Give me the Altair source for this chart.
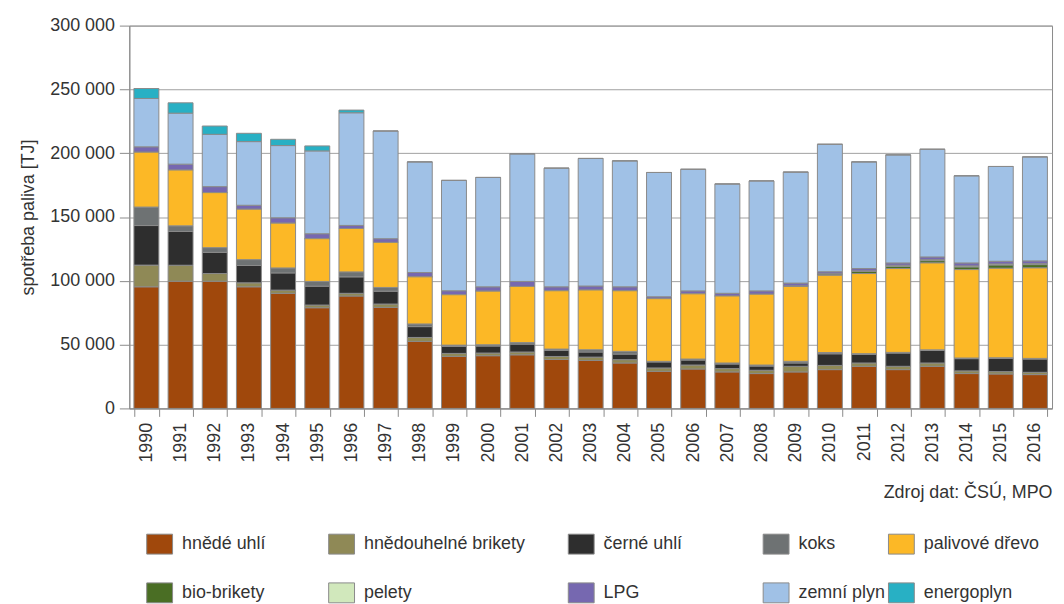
import altair as alt
import pandas as pd

years = [str(y) for y in range(1990, 2017)]

fuels = ["hnědé uhlí", "hnědouhelné brikety", "černé uhlí", "koks", "palivové dřevo",
         "bio-brikety", "pelety", "LPG", "zemní plyn", "energoplyn"]
colors = ["#A0480C", "#8F8956", "#2E2E2E", "#6E7273", "#FCB826",
          "#4A6E24", "#D1E8BC", "#7668B0", "#A0C1E6", "#28B0C4"]

# values in thousands of TJ
hnede_uhli = [95.3, 99.7, 99.7, 95.3, 90.2, 78.9, 88.1, 79.2, 52.5, 40.8, 41.3, 42.0, 38.4, 37.6,
              35.6, 29.1, 30.9, 28.6, 27.3, 28.6, 30.4, 33.0, 30.4, 33.0, 27.3, 27.0, 26.5]
hnedouhelne_brikety = [17.0, 12.5, 6.0, 3.1, 2.5, 2.1, 2.1, 2.6, 3.1, 2.3, 2.1, 2.2, 2.3, 2.6,
                       2.6, 2.6, 3.1, 2.6, 2.6, 4.4, 3.3, 2.6, 2.6, 2.6, 2.1, 1.8, 1.8]
cerne_uhli = [31.0, 26.5, 16.6, 13.6, 13.5, 14.8, 12.9, 10.1, 8.5, 5.5, 5.5, 6.2, 4.8, 4.0,
              4.4, 4.7, 3.9, 3.6, 3.3, 2.6, 9.1, 6.7, 10.4, 9.8, 9.6, 10.4, 10.4]
koks = [14.5, 4.4, 3.7, 4.6, 3.9, 3.7, 3.9, 2.9, 2.1, 1.0, 1.0, 1.2, 1.0, 1.8,
        2.1, 0.5, 0.8, 0.8, 0.8, 1.3, 1.0, 0.6, 0.5, 0.5, 0.5, 0.5, 0.5]
palivove_drevo = [43.0, 43.7, 43.1, 39.5, 35.1, 33.5, 34.0, 35.3, 36.9, 39.5, 42.0, 44.0, 45.7, 46.8,
                  47.5, 49.1, 51.1, 52.5, 55.5, 58.7, 60.5, 62.8, 65.7, 68.1, 69.3, 70.1, 70.9]
bio_brikety = [0, 0, 0, 0, 0, 0, 0, 0, 0, 0, 0, 0, 0, 0,
               0, 0, 0, 0, 0, 0.5, 1.0, 1.6, 1.8, 1.8, 2.1, 2.6, 2.6]
pelety = [0, 0, 0, 0, 0, 0, 0, 0, 0, 0, 0, 0, 0, 0,
          0, 0, 0, 0, 0, 0, 0.3, 0.5, 0.8, 0.8, 0.8, 0.8, 0.8]
lpg = [4.2, 4.6, 4.7, 3.1, 4.2, 3.9, 2.4, 2.9, 3.4, 3.1, 3.4, 3.9, 3.1, 3.1,
       3.1, 1.5, 2.3, 2.1, 2.6, 2.1, 1.5, 1.8, 1.8, 2.1, 2.3, 2.1, 2.1]
zemni_plyn = [37.9, 40.0, 41.0, 49.9, 56.6, 64.9, 88.3, 84.4, 86.7, 86.5, 85.7, 100.0, 93.0, 100.0,
              98.7, 97.4, 95.3, 85.7, 86.2, 87.0, 99.9, 83.6, 84.7, 84.4, 68.3, 74.3, 81.5]
energoplyn = [7.8, 8.1, 6.5, 6.5, 4.9, 3.9, 2.1, 0, 0, 0, 0, 0, 0, 0,
              0, 0, 0, 0, 0, 0, 0, 0, 0, 0, 0, 0, 0]

series = [hnede_uhli, hnedouhelne_brikety, cerne_uhli, koks, palivove_drevo,
          bio_brikety, pelety, lpg, zemni_plyn, energoplyn]

y_ticks = [0, 50000, 100000, 150000, 200000, 250000, 300000]
source_note = "Zdroj dat: ČSÚ, MPO"

rows = []
for k, (f, vals) in enumerate(zip(fuels, series)):
    for y, v in zip(years, vals):
        rows.append({"rok": y, "palivo": f, "poradi": k, "hodnota": v * 1000})
df = pd.DataFrame(rows)

FONT = "Liberation Sans"
TXT = "#333333"
GRAY = "#8a8a8a"

# legend columns (top row / bottom row)
legend_cols = [
    (["hnědé uhlí", "bio-brikety"], 20),
    (["hnědouhelné brikety", "pelety"], 203),
    (["černé uhlí", "LPG"], 444),
    (["koks", "zemní plyn"], 640),
    (["palivové dřevo", "energoplyn"], 766),
]

base = alt.Chart(df).transform_stack(
    stack="hodnota", groupby=["rok"],
    sort=[alt.SortField("poradi", order="ascending")],
    as_=["y0", "y1"],
).mark_bar(stroke=GRAY, strokeWidth=1).encode(
    x=alt.X("rok:O", sort=years,
            scale=alt.Scale(paddingInner=0.27, paddingOuter=0.135),
            axis=alt.Axis(title=source_note, titleAnchor="end", titleAlign="right",
                          titleFontSize=18, titleFont=FONT, titleColor=TXT,
                          titleFontWeight="normal", titlePadding=22,
                          labelAngle=270, labelFontSize=18, labelFont=FONT,
                          labelColor=TXT, tickSize=8, labelPadding=6, tickBand="extent",
                          domainColor=GRAY, tickColor=GRAY, grid=False)),
    y=alt.Y("y0:Q", scale=alt.Scale(domain=[0, 300000]),
            axis=alt.Axis(title="spotřeba paliva [TJ]", values=y_ticks,
                          labelExpr="replace(format(datum.value, ','), ',', ' ')",
                          labelFontSize=18, labelFont=FONT, labelColor=TXT,
                          titleFontSize=18, titleFont=FONT, titleColor=TXT,
                          titleFontWeight="normal", titlePadding=12,
                          tickSize=10, labelPadding=5, domainColor=GRAY, tickColor=GRAY,
                          gridColor="#a0a0a0", gridWidth=1)),
    y2="y1:Q",
)

layers = []
for group, lx in legend_cols:
    rng = [colors[fuels.index(g)] for g in group]
    layers.append(
        base.transform_filter(alt.FieldOneOfPredicate(field="palivo", oneOf=group)).encode(
            color=alt.Color("palivo:N", scale=alt.Scale(domain=group, range=rng),
                            legend=alt.Legend(orient="none", legendX=lx, legendY=511,
                                              direction="vertical", title=None))
        )
    )

chart = alt.layer(*layers).resolve_scale(color="independent").properties(
    width=928, height=385,
    padding={"left": 122, "top": 16, "right": 4, "bottom": 195},
    autosize=alt.AutoSizeParams(type="none"),
).configure_view(stroke=GRAY).configure_legend(
    symbolType="M-1.3,-1H1.3V1H-1.3Z", symbolSize=400,
    symbolStrokeColor=GRAY, symbolStrokeWidth=1,
    labelFontSize=18, labelFont=FONT, labelColor=TXT, labelOffset=12,
    labelLimit=300, rowPadding=24, padding=0,
)

chart.save("out.html", embed_options={"renderer": "svg", "actions": False})
